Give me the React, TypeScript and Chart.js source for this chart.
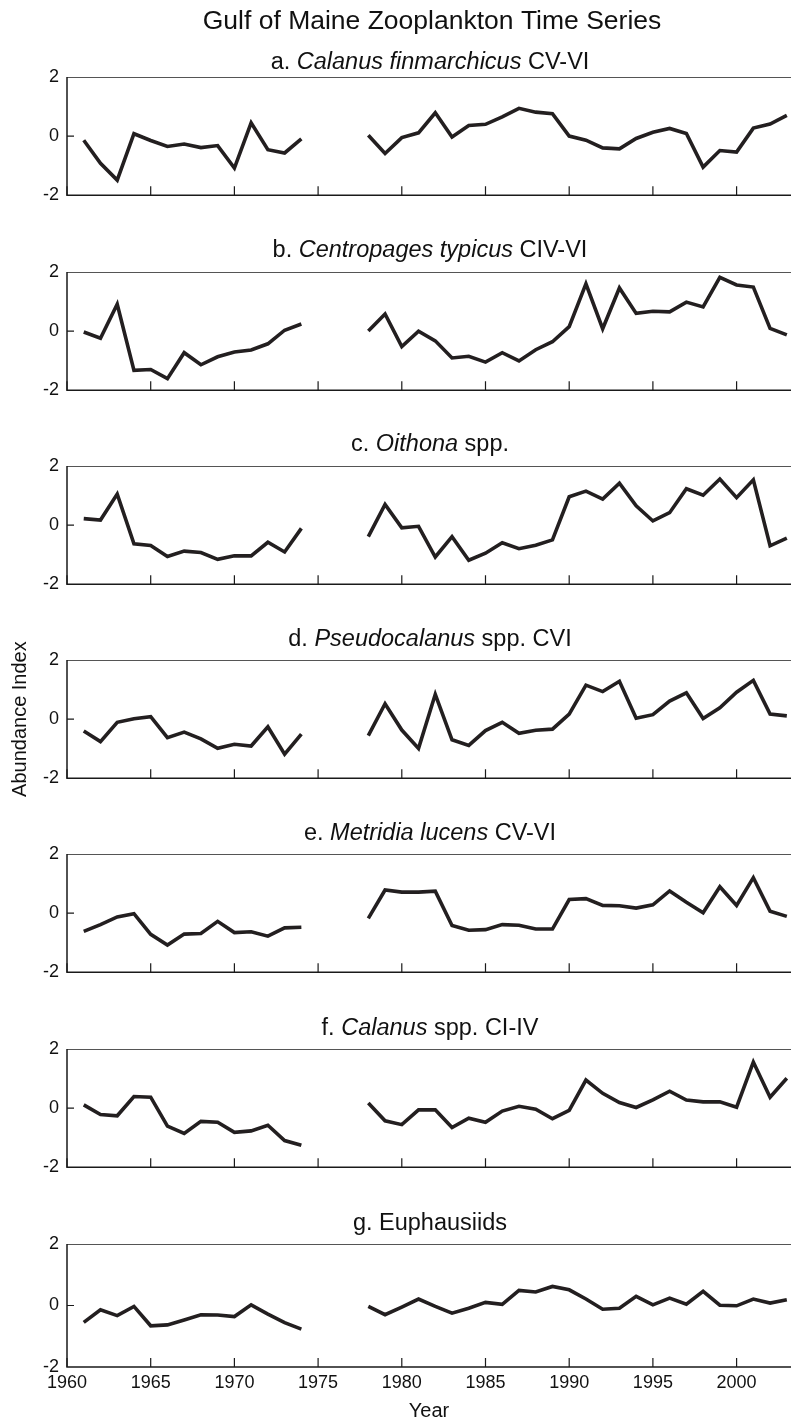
import React, { useEffect, useRef } from 'react';
import { Chart, registerables } from 'chart.js';

Chart.register(...registerables);

// ---------- data ----------
const earlyYears = [1961, 1962, 1963, 1964, 1965, 1966, 1967, 1968, 1969, 1970, 1971, 1972, 1973, 1974];
const lateYears = [1978, 1979, 1980, 1981, 1982, 1983, 1984, 1985, 1986, 1987, 1988, 1989, 1990, 1991, 1992, 1993, 1994, 1995, 1996, 1997, 1998, 1999, 2000, 2001, 2002, 2003];
const xTickYears = [1960, 1965, 1970, 1975, 1980, 1985, 1990, 1995, 2000];
const yTickValues = [-2, 0, 2];

const calanusFinEarly = [-0.14, -0.92, -1.49, 0.08, -0.15, -0.35, -0.27, -0.39, -0.32, -1.08, 0.45, -0.46, -0.57, -0.09];
const calanusFinLate = [0.03, -0.59, -0.05, 0.11, 0.79, -0.03, 0.36, 0.40, 0.65, 0.94, 0.81, 0.76, 0.0, -0.14, -0.40, -0.43, -0.08, 0.13, 0.26, 0.09, -1.05, -0.49, -0.54, 0.27, 0.41, 0.70];

const centropagesEarly = [-0.03, -0.24, 0.91, -1.33, -1.30, -1.61, -0.73, -1.14, -0.87, -0.71, -0.64, -0.43, 0.03, 0.24];
const centropagesLate = [0.0, 0.58, -0.52, 0.0, -0.33, -0.91, -0.85, -1.05, -0.73, -1.01, -0.63, -0.36, 0.15, 1.60, 0.08, 1.46, 0.60, 0.67, 0.65, 0.98, 0.82, 1.82, 1.56, 1.49, 0.09, -0.13];

const oithonaEarly = [0.22, 0.17, 1.05, -0.63, -0.69, -1.06, -0.88, -0.93, -1.16, -1.04, -1.04, -0.58, -0.91, -0.11];
const oithonaLate = [-0.39, 0.70, -0.09, -0.04, -1.08, -0.39, -1.19, -0.95, -0.60, -0.80, -0.68, -0.50, 0.96, 1.15, 0.88, 1.42, 0.65, 0.14, 0.42, 1.23, 1.01, 1.56, 0.93, 1.53, -0.70, -0.44];

const pseudocalanusEarly = [-0.40, -0.76, -0.11, 0.01, 0.08, -0.63, -0.44, -0.67, -0.99, -0.85, -0.91, -0.26, -1.19, -0.51];
const pseudocalanusLate = [-0.56, 0.52, -0.37, -0.99, 0.84, -0.70, -0.89, -0.39, -0.11, -0.48, -0.38, -0.34, 0.17, 1.15, 0.93, 1.28, 0.03, 0.15, 0.61, 0.89, 0.02, 0.38, 0.91, 1.31, 0.17, 0.11];

const metridiaEarly = [-0.62, -0.39, -0.13, -0.02, -0.72, -1.08, -0.71, -0.69, -0.28, -0.66, -0.63, -0.78, -0.50, -0.48];
const metridiaLate = [-0.18, 0.78, 0.71, 0.71, 0.74, -0.42, -0.58, -0.56, -0.39, -0.41, -0.54, -0.54, 0.46, 0.49, 0.26, 0.25, 0.17, 0.28, 0.75, 0.37, 0.01, 0.89, 0.26, 1.20, 0.06, -0.11];

const calanusSppEarly = [0.11, -0.22, -0.26, 0.39, 0.37, -0.61, -0.86, -0.45, -0.48, -0.82, -0.77, -0.58, -1.10, -1.26];
const calanusSppLate = [0.17, -0.43, -0.56, -0.06, -0.06, -0.66, -0.34, -0.48, -0.10, 0.06, -0.04, -0.36, -0.08, 0.95, 0.50, 0.19, 0.02, 0.28, 0.57, 0.27, 0.21, 0.21, 0.03, 1.56, 0.37, 1.01];

const euphausiidsEarly = [-0.55, -0.14, -0.33, -0.03, -0.66, -0.63, -0.47, -0.30, -0.31, -0.36, 0.02, -0.28, -0.56, -0.77];
const euphausiidsLate = [-0.03, -0.30, -0.05, 0.21, -0.03, -0.25, -0.09, 0.10, 0.04, 0.49, 0.44, 0.62, 0.51, 0.21, -0.12, -0.09, 0.30, 0.02, 0.24, 0.04, 0.46, 0.01, -0.01, 0.21, 0.08, 0.19];

const mainTitle = 'Gulf of Maine Zooplankton Time Series';
const yAxisTitle = 'Abundance Index';
const xAxisTitle = 'Year';

type Seg = [string, boolean];
const panelTitles: Seg[][] = [
  [['a. ', false], ['Calanus finmarchicus', true], [' CV-VI', false]],
  [['b. ', false], ['Centropages typicus', true], [' CIV-VI', false]],
  [['c. ', false], ['Oithona', true], [' spp.', false]],
  [['d. ', false], ['Pseudocalanus', true], [' spp. CVI', false]],
  [['e. ', false], ['Metridia lucens', true], [' CV-VI', false]],
  [['f. ', false], ['Calanus', true], [' spp. CI-IV', false]],
  [['g. Euphausiids', false]],
];
const seriesEarly = [calanusFinEarly, centropagesEarly, oithonaEarly, pseudocalanusEarly, metridiaEarly, calanusSppEarly, euphausiidsEarly];
const seriesLate = [calanusFinLate, centropagesLate, oithonaLate, pseudocalanusLate, metridiaLate, calanusSppLate, euphausiidsLate];

// ---------- layout ----------
const W = 791;
const H = 1423;
const PLOT_LEFT = 67;
const PLOT_H = 123;
const X_MIN = 1960;
const X_MAX = 2003.25;
const panelTops = [77, 272, 466, 660, 854, 1049, 1244];
const titleGaps = [8, 15, 15, 14, 14, 14, 14];
const FONT = '"Liberation Sans", Arial, Helvetica, sans-serif';
const INK = '#111111';
const LINE = '#231f20';

function makeDecor(idx: number) {
  return {
    id: 'decor' + idx,
    beforeDatasetsDraw(chart: any) {
      const { ctx, chartArea: a, scales } = chart;
      ctx.save();
      ctx.strokeStyle = '#555555';
      ctx.lineWidth = 1;
      ctx.beginPath();
      ctx.moveTo(a.left, a.top + 0.5);
      ctx.lineTo(a.right, a.top + 0.5);
      ctx.stroke();
      ctx.strokeStyle = '#1a1a1a';
      ctx.lineWidth = 1.5;
      ctx.beginPath();
      ctx.moveTo(a.left, a.top);
      ctx.lineTo(a.left, a.bottom);
      ctx.lineTo(a.right, a.bottom);
      ctx.stroke();
      ctx.lineWidth = 1.2;
      ctx.beginPath();
      for (const yr of xTickYears) {
        const x = scales.x.getPixelForValue(yr);
        ctx.moveTo(x, a.bottom);
        ctx.lineTo(x, a.bottom - 9);
      }
      const y0 = scales.y.getPixelForValue(0);
      ctx.moveTo(a.left, y0);
      ctx.lineTo(a.left + 7, y0);
      ctx.stroke();
      ctx.restore();
    },
    afterDraw(chart: any) {
      const { ctx, chartArea: a } = chart;
      const cx = (a.left + a.right) / 2 + 1;
      ctx.save();
      ctx.fillStyle = INK;
      ctx.textBaseline = 'alphabetic';
      ctx.textAlign = 'left';
      const segs = panelTitles[idx];
      const fontFor = (it: boolean) => `${it ? 'italic ' : ''}23.5px ${FONT}`;
      let total = 0;
      for (const [t, it] of segs) {
        ctx.font = fontFor(it);
        total += ctx.measureText(t).width;
      }
      let x = cx - total / 2;
      const by = a.top - titleGaps[idx];
      for (const [t, it] of segs) {
        ctx.font = fontFor(it);
        ctx.fillText(t, x, by);
        x += ctx.measureText(t).width;
      }
      if (idx === 0) {
        ctx.font = `26.5px ${FONT}`;
        ctx.textAlign = 'center';
        ctx.fillText(mainTitle, cx + 2, a.top - 48);
      }
      ctx.restore();
    },
  };
}

function Panel({ idx }: { idx: number }) {
  const ref = useRef<HTMLCanvasElement | null>(null);
  const isLast = idx === panelTitles.length - 1;
  const padTop = idx === 0 ? panelTops[0] : 60;
  const canvasTop = panelTops[idx] - padTop;
  const bottomExtra = isLast ? H - (panelTops[idx] + PLOT_H) : 14;
  const canvasH = padTop + PLOT_H + bottomExtra;

  useEffect(() => {
    if (!ref.current) return;
    const early = earlyYears.map((yr, i) => ({ x: yr, y: seriesEarly[idx][i] }));
    const late = lateYears.map((yr, i) => ({ x: yr, y: seriesLate[idx][i] }));
    const ds = (data: any) => ({
      data,
      borderColor: LINE,
      borderWidth: 3.6,
      pointRadius: 0,
      pointHoverRadius: 0,
      tension: 0,
      fill: false,
      borderJoinStyle: 'miter',
      clip: 6,
    });
    const chart = new Chart(ref.current, {
      type: 'line',
      data: { datasets: [ds(early), ds(late)] as any },
      options: {
        responsive: false,
        animation: false,
        events: [],
        layout: { padding: { top: padTop, left: 0, right: 0, bottom: isLast ? 0 : 14 } },
        plugins: { legend: { display: false }, tooltip: { enabled: false }, title: { display: false } },
        scales: {
          x: {
            type: 'linear',
            min: X_MIN,
            max: X_MAX,
            grid: { display: false, drawTicks: false, tickLength: 0 },
            border: { display: false },
            afterBuildTicks: (axis: any) => {
              axis.ticks = xTickYears.map((v) => ({ value: v }));
            },
            afterFit: (axis: any) => {
              axis.height = isLast ? bottomExtra : 0;
            },
            ticks: {
              display: isLast,
              padding: 5,
              autoSkip: false,
              maxRotation: 0,
              color: INK,
              font: { family: FONT, size: 18 },
              callback: (v: any) => String(v),
            },
            title: {
              display: isLast,
              text: xAxisTitle,
              color: INK,
              font: { family: FONT, size: 20 },
              padding: { top: 0, bottom: 0 },
            },
          },
          y: {
            type: 'linear',
            min: -2,
            max: 2,
            grid: { display: false, drawTicks: false, tickLength: 0 },
            border: { display: false },
            afterBuildTicks: (axis: any) => {
              axis.ticks = yTickValues.map((v) => ({ value: v }));
            },
            afterFit: (axis: any) => {
              axis.width = PLOT_LEFT;
            },
            ticks: {
              padding: 8,
              color: INK,
              font: { family: FONT, size: 18 },
              callback: (v: any) => String(v),
            },
            title: {
              display: idx === 3,
              text: yAxisTitle,
              color: INK,
              font: { family: FONT, size: 20 },
              padding: { top: 8, bottom: 0 },
            },
          },
        },
      } as any,
      plugins: [makeDecor(idx)],
    });
    return () => chart.destroy();
  }, [idx]);

  return (
    <canvas
      ref={ref}
      width={W}
      height={canvasH}
      style={{ position: 'absolute', left: 0, top: canvasTop, width: W, height: canvasH }}
    />
  );
}

export default function App() {
  return (
    <div style={{ position: 'absolute', left: 0, top: 0, width: W, height: H, background: '#ffffff', overflow: 'hidden' }}>
      {panelTitles.map((_, i) => (
        <Panel key={i} idx={i} />
      ))}
    </div>
  );
}
